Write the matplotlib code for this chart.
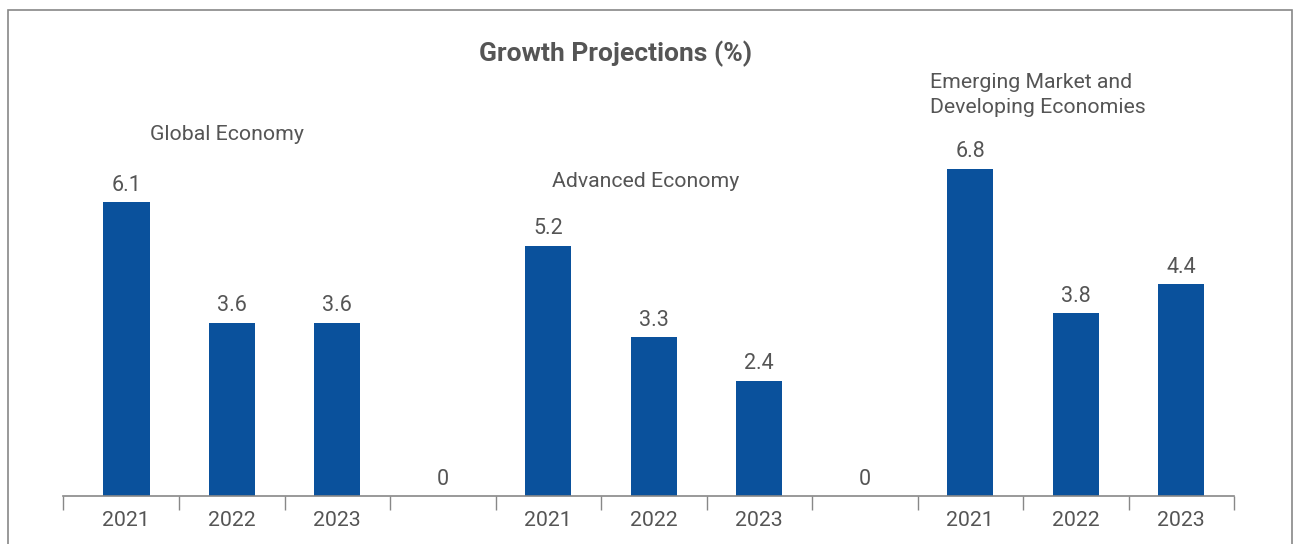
import matplotlib
matplotlib.use("Agg")
import matplotlib.pyplot as plt
from matplotlib.patches import Rectangle

plt.rcParams['font.family'] = ['Roboto', 'DejaVu Sans']

categories = ["2021", "2022", "2023", "", "2021", "2022", "2023", "", "2021", "2022", "2023"]
values = [6.1, 3.6, 3.6, 0, 5.2, 3.3, 2.4, 0, 6.8, 3.8, 4.4]
value_labels = ["6.1", "3.6", "3.6", "0", "5.2", "3.3", "2.4", "0", "6.8", "3.8", "4.4"]
group_titles = ["Global Economy", "Advanced Economy", "Emerging Market and\nDeveloping Economies"]
title = "Growth Projections (%)"

W, H = 1293, 544
fig = plt.figure(figsize=(W / 100, H / 100), dpi=100)
ax = fig.add_axes([63 / W, 1 - 496 / H, (1234 - 63) / W, 385 / H])

txt = "#555555"
bar_color = "#0A519C"
x = list(range(len(categories)))
ax.bar(x, values, width=0.44, color=bar_color, zorder=2)

for xi, v, lab in zip(x, values, value_labels):
    ax.annotate(lab, (xi, v), xytext=(0, 4.5), textcoords="offset points",
                ha="center", va="bottom", fontsize=15.5, color=txt)

ax.set_xlim(-0.6, 10.5)
ax.set_ylim(0, 8.0)

# tick marks at boundaries, labels at centers
ax.set_xticks([-0.6] + [i + 0.5 for i in range(len(categories))])
ax.set_xticklabels([])
ax.tick_params(axis="x", which="major", length=10, width=1, color="#888888", direction="out")
ax.set_xticks(x, minor=True)
ax.set_xticklabels(categories, minor=True)
ax.tick_params(axis="x", which="minor", length=0, labelsize=15.3, labelcolor=txt, pad=10.5)
ax.set_yticks([])

for s in ["top", "right", "left"]:
    ax.spines[s].set_visible(False)
ax.spines["bottom"].set_color("#888888")
ax.spines["bottom"].set_linewidth(1.2)

# group titles
fs_g = 15.3
ax.text(0.225, 7.51, group_titles[0], ha="left", va="center", fontsize=fs_g, color=txt, clip_on=False)
ax.text(4.035, 6.53, group_titles[1], ha="left", va="center", fontsize=fs_g, color=txt, clip_on=False)
ax.text(7.62, 8.33, group_titles[2], ha="left", va="center", fontsize=fs_g, color=txt,
        clip_on=False, linespacing=1.42)

fig.text(616 / W, 1 - 54 / H, title, ha="center", va="center", fontsize=19,
         fontweight="bold", color=txt)

fig.patches.append(Rectangle((8 / W, -0.1), (1292 - 8) / W, 1.1 - 10 / H,
                             transform=fig.transFigure, fill=False,
                             edgecolor="#888888", linewidth=1.2))

fig.savefig("out.png", dpi=100)
